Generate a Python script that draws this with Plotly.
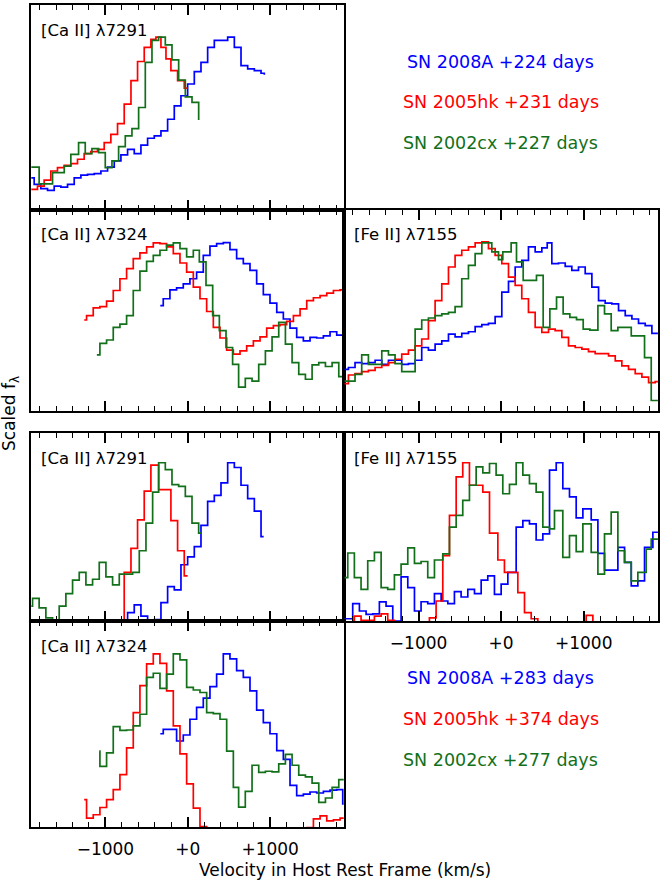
import plotly.graph_objects as go

# ---------------- data (velocity km/s, scaled flux) ----------------
# Panel 1: [Ca II] 7291, early epoch
p1_08A_v = [-1910,-1865,-1784,-1703,-1622,-1541,-1460,-1379,-1298,-1217,-1136,-1055,-974,-893,-812,-731,-650,-569,-488,-407,-326,-245,-164,-83,-2,79,160,241,322,484,565,646,727,808,889,929]
p1_08A_f = [0.162,0.130,0.110,0.101,0.122,0.117,0.130,0.162,0.175,0.179,0.182,0.195,0.214,0.244,0.273,0.300,0.279,0.321,0.354,0.365,0.390,0.446,0.511,0.560,0.617,0.677,0.722,0.795,0.828,0.844,0.795,0.706,0.690,0.682,0.669,0.662]
p1_05hk_v = [-1910,-1825,-1744,-1663,-1582,-1500,-1420,-1339,-1258,-1177,-1096,-1015,-934,-853,-772,-690,-610,-529,-448,-387,-326,-265,-205,-124,-43,-2]
p1_05hk_f = [0.106,0.122,0.151,0.195,0.211,0.222,0.231,0.252,0.279,0.289,0.300,0.333,0.373,0.425,0.519,0.633,0.726,0.795,0.833,0.844,0.795,0.739,0.682,0.633,0.597,0.597]
p1_02cx_v = [-1910,-1805,-1642,-1500,-1420,-1326,-1245,-1164,-1083,-1002,-921,-840,-759,-678,-597,-516,-435,-354,-273,-192,-111,-30,51,132]
p1_02cx_f = [0.214,0.133,0.187,0.219,0.276,0.333,0.279,0.304,0.284,0.211,0.244,0.313,0.365,0.401,0.503,0.722,0.828,0.844,0.807,0.734,0.636,0.555,0.528,0.442]

# Panel 2: [Ca II] 7324, early epoch
p2_08A_v = [-334,-298,-217,-136,-55,26,107,188,269,350,431,512,593,674,755,836,917,998,1080,1160,1241,1322,1403,1484,1565,1646,1727,1808,1893]
p2_08A_f = [0.527,0.561,0.605,0.615,0.635,0.660,0.693,0.776,0.821,0.834,0.839,0.804,0.760,0.735,0.701,0.635,0.582,0.539,0.494,0.461,0.416,0.370,0.353,0.370,0.367,0.378,0.398,0.381,0.373]
p2_05hk_v = [-1258,-1229,-1148,-1067,-986,-905,-824,-743,-662,-581,-500,-419,-338,-257,-176,-95,-14,67,148,229,310,391,472,553,634,715,796,877,958,1039,1120,1201,1282,1363,1444,1525,1606,1687,1768,1849,1893]
p2_05hk_f = [0.456,0.478,0.516,0.522,0.549,0.602,0.660,0.710,0.760,0.788,0.818,0.837,0.834,0.818,0.784,0.738,0.693,0.619,0.561,0.498,0.420,0.367,0.307,0.287,0.303,0.328,0.353,0.373,0.416,0.428,0.433,0.449,0.478,0.511,0.552,0.566,0.577,0.589,0.602,0.605,0.605]
p2_02cx_v = [-1104,-1067,-986,-905,-824,-743,-662,-581,-500,-419,-338,-257,-176,-95,-14,67,140,221,302,383,464,544,617,698,780,861,942,1023,1104,1185,1266,1347,1428,1509,1590,1671,1752,1833,1893]
p2_02cx_f = [0.284,0.340,0.357,0.420,0.436,0.478,0.602,0.698,0.746,0.776,0.801,0.826,0.837,0.809,0.768,0.801,0.743,0.627,0.478,0.403,0.320,0.237,0.124,0.167,0.154,0.237,0.303,0.373,0.444,0.337,0.245,0.187,0.163,0.234,0.245,0.226,0.245,0.176,0.154]

# Panel 3: [Fe II] 7155, early epoch
p3_08A_v = [-1899,-1850,-1770,-1689,-1608,-1527,-1446,-1365,-1204,-1123,-1042,-962,-881,-800,-719,-638,-558,-477,-396,-315,-234,-154,-73,8,89,170,250,331,412,493,558,614,695,776,856,937,1018,1099,1180,1260,1341,1422,1503,1584,1664,1745,1826,1899]
p3_08A_f = [0.212,0.221,0.245,0.240,0.245,0.257,0.237,0.257,0.237,0.240,0.257,0.320,0.307,0.337,0.353,0.386,0.373,0.390,0.398,0.423,0.433,0.439,0.473,0.594,0.647,0.718,0.751,0.818,0.793,0.813,0.837,0.735,0.738,0.721,0.701,0.718,0.685,0.619,0.552,0.539,0.536,0.502,0.478,0.461,0.439,0.428,0.390,0.390]
p3_05hk_v = [-1899,-1850,-1770,-1689,-1608,-1527,-1446,-1365,-1285,-1204,-1123,-1042,-962,-881,-800,-719,-638,-558,-477,-396,-315,-234,-154,-73,8,89,170,250,331,412,493,574,654,735,816,897,978,1058,1139,1220,1301,1382,1462,1543,1624,1705,1786,1866,1899]
p3_05hk_f = [0.141,0.184,0.191,0.201,0.207,0.221,0.232,0.245,0.262,0.287,0.307,0.328,0.362,0.453,0.552,0.635,0.718,0.776,0.801,0.818,0.837,0.842,0.809,0.776,0.735,0.668,0.627,0.561,0.494,0.420,0.395,0.411,0.403,0.370,0.328,0.320,0.312,0.300,0.290,0.290,0.279,0.254,0.229,0.212,0.191,0.174,0.146,0.151,0.151]
p3_02cx_v = [-1899,-1770,-1689,-1608,-1446,-1365,-1285,-1204,-1042,-962,-881,-800,-719,-638,-558,-477,-396,-315,-234,-154,-113,-32,20,121,186,267,347,428,509,590,671,751,832,913,994,1075,1172,1252,1333,1414,1576,1737,1818,1899]
p3_02cx_f = [0.154,0.187,0.284,0.237,0.303,0.284,0.240,0.201,0.411,0.456,0.466,0.478,0.486,0.494,0.522,0.660,0.726,0.784,0.837,0.837,0.793,0.755,0.793,0.837,0.743,0.652,0.652,0.677,0.420,0.511,0.569,0.486,0.469,0.458,0.411,0.406,0.527,0.486,0.403,0.420,0.378,0.270,0.058,0.058]

# Panel 4: [Ca II] 7291, late epoch
p4_08A_v = [-812,-731,-650,-569,-488,-407,-326,-245,-164,-83,-2,79,160,241,322,403,484,565,646,727,808,889,921]
p4_08A_f = [0.009,0.050,0.091,0.032,0.009,0.014,0.103,0.188,0.171,0.304,0.346,0.400,0.512,0.639,0.671,0.737,0.844,0.819,0.725,0.654,0.588,0.453,0.453]
p4_05hk_v = [-853,-772,-690,-610,-529,-448,-354,-205,-124,-43,-2]
p4_05hk_f = [0.009,0.263,0.391,0.542,0.694,0.831,0.702,0.538,0.378,0.245,0.245]
p4_02cx_v = [-1910,-1885,-1805,-1723,-1642,-1561,-1480,-1399,-1318,-1237,-1156,-1075,-994,-913,-832,-751,-670,-589,-508,-427,-354,-273,-192,-111,-30,51,132,160]
p4_02cx_f = [0.085,0.126,0.076,0.023,0.005,0.085,0.151,0.222,0.263,0.197,0.227,0.316,0.240,0.197,0.254,0.254,0.263,0.378,0.524,0.689,0.844,0.808,0.728,0.719,0.666,0.524,0.471,0.471]

# Panel 5: [Fe II] 7155, late epoch
p5_08A_v = [-1899,-1798,-1717,-1636,-1555,-1475,-1394,-1313,-1212,-1131,-1050,-970,-889,-808,-727,-646,-566,-485,-404,-323,-242,-162,-81,0,81,182,263,343,424,505,586,667,747,828,909,990,1091,1172,1252,1414,1495,1576,1656,1737,1838,1899]
p5_08A_f = [0.018,0.098,0.059,0.041,0.044,0.107,0.085,0.005,0.240,0.183,0.059,0.108,0.098,0.151,0.112,0.098,0.162,0.133,0.174,0.151,0.222,0.245,0.147,0.201,0.263,0.503,0.538,0.520,0.435,0.467,0.805,0.844,0.707,0.663,0.552,0.600,0.542,0.364,0.275,0.396,0.316,0.192,0.218,0.396,0.476,0.476]
p5_05hk_v = [-1798,-1778,-1697,-1535,-1454,-1374,-1293,-869,-788,-707,-626,-545,-465,-384,-303,-222,-141,-40,40,121,202,283,364,444,1030,1111]
p5_05hk_f = [0.009,0.032,0.009,0.032,0.044,0.009,0.0,0.023,0.112,0.352,0.565,0.769,0.844,0.725,0.725,0.689,0.471,0.329,0.263,0.263,0.156,0.050,0.018,0.0,0.036,0.0]
p5_02cx_v = [-1899,-1858,-1778,-1697,-1616,-1535,-1454,-1374,-1293,-1212,-1131,-1050,-970,-889,-808,-707,-626,-545,-465,-384,-303,-222,-141,-61,20,101,182,263,343,424,505,586,646,747,828,909,990,1091,1172,1252,1333,1414,1495,1576,1656,1757,1818,1899]
p5_02cx_f = [0.236,0.366,0.236,0.174,0.325,0.369,0.183,0.174,0.250,0.307,0.393,0.311,0.321,0.236,0.329,0.361,0.503,0.565,0.645,0.725,0.822,0.790,0.840,0.778,0.680,0.730,0.844,0.778,0.734,0.689,0.503,0.494,0.591,0.343,0.458,0.373,0.520,0.369,0.254,0.467,0.583,0.378,0.316,0.218,0.263,0.387,0.440,0.440]

# Panel 6: [Ca II] 7324, late epoch
p6_08A_v = [-334,-298,-217,-136,-55,26,107,188,269,350,431,512,593,674,755,836,917,998,1080,1160,1241,1322,1403,1484,1565,1646,1727,1808,1881,1893]
p6_08A_f = [0.456,0.477,0.477,0.421,0.450,0.526,0.583,0.628,0.683,0.744,0.841,0.817,0.761,0.728,0.663,0.570,0.510,0.456,0.375,0.332,0.207,0.157,0.165,0.175,0.170,0.178,0.184,0.186,0.117,0.117]
p6_05hk_v = [-1258,-1229,-1148,-1067,-986,-905,-824,-743,-662,-581,-500,-419,-338,-257,-176,-95,-14,67,148,229,1444,1525,1606,1687,1768,1849,1893]
p6_05hk_f = [0.138,0.049,0.065,0.100,0.138,0.186,0.259,0.388,0.558,0.688,0.793,0.841,0.796,0.663,0.494,0.359,0.214,0.097,0.008,0.0,0.003,0.045,0.060,0.036,0.040,0.049,0.049]
p6_02cx_v = [-1075,-1067,-986,-905,-824,-743,-662,-581,-500,-419,-338,-257,-176,-95,-14,67,148,229,310,391,472,553,617,698,780,861,942,1023,1104,1185,1266,1347,1428,1509,1590,1671,1752,1833,1893]
p6_02cx_f = [0.372,0.299,0.364,0.490,0.472,0.474,0.494,0.550,0.728,0.748,0.675,0.744,0.841,0.812,0.680,0.667,0.655,0.558,0.553,0.526,0.372,0.197,0.102,0.178,0.304,0.270,0.275,0.272,0.311,0.356,0.304,0.256,0.248,0.218,0.125,0.146,0.197,0.235,0.235]

panel_labels = ["[Ca II] λ7291", "[Ca II] λ7324", "[Fe II] λ7155",
                "[Ca II] λ7291", "[Fe II] λ7155", "[Ca II] λ7324"]
legend_early = ["SN 2008A +224 days", "SN 2005hk +231 days", "SN 2002cx +227 days"]
legend_late = ["SN 2008A +283 days", "SN 2005hk +374 days", "SN 2002cx +277 days"]
x_title = "Velocity in Host Rest Frame (km/s)"
y_title = "Scaled f<sub>λ</sub>"

# ---------------- style / layout ----------------
W, H = 664, 886
BLUE, RED, GREEN = "#0000ff", "#ff0000", "#12701a"
FONT = "DejaVu Sans"

# panel boxes in pixels: (left, top, right, bottom)
boxes = [
    (31.3, 5.0, 344.3, 210.0),
    (31.3, 210.0, 344.3, 411.0),
    (344.3, 210.0, 658.0, 411.0),
    (31.3, 433.3, 344.3, 621.0),
    (344.3, 433.3, 658.0, 621.0),
    (31.3, 621.0, 344.3, 827.0),
]
panels = [
    [(p1_08A_v, p1_08A_f, BLUE), (p1_05hk_v, p1_05hk_f, RED), (p1_02cx_v, p1_02cx_f, GREEN)],
    [(p2_08A_v, p2_08A_f, BLUE), (p2_05hk_v, p2_05hk_f, RED), (p2_02cx_v, p2_02cx_f, GREEN)],
    [(p3_08A_v, p3_08A_f, BLUE), (p3_05hk_v, p3_05hk_f, RED), (p3_02cx_v, p3_02cx_f, GREEN)],
    [(p4_08A_v, p4_08A_f, BLUE), (p4_05hk_v, p4_05hk_f, RED), (p4_02cx_v, p4_02cx_f, GREEN)],
    [(p5_08A_v, p5_08A_f, BLUE), (p5_05hk_v, p5_05hk_f, RED), (p5_02cx_v, p5_02cx_f, GREEN)],
    [(p6_08A_v, p6_08A_f, BLUE), (p6_05hk_v, p6_05hk_f, RED), (p6_02cx_v, p6_02cx_f, GREEN)],
]
labelled = {4, 5}

fig = go.Figure()
layout = dict(
    width=W, height=H, margin=dict(l=0, r=0, t=0, b=0, pad=0),
    paper_bgcolor="white", plot_bgcolor="white", showlegend=False,
    font=dict(family=FONT, size=17, color="black"),
)
annotations = []

for i, (box, series) in enumerate(zip(boxes, panels)):
    n = i + 1
    xs = "" if n == 1 else str(n)
    l, t, r, b = box
    for v, f, c in series:
        fig.add_trace(go.Scatter(
            x=v, y=f, mode="lines", line=dict(color=c, width=1.7, shape="hv"),
            xaxis="x" + xs, yaxis="y" + xs, hoverinfo="skip"))
    layout["xaxis" + xs] = dict(
        domain=[l / W, r / W], anchor="y" + xs, range=[-1900, 1900],
        showline=True, linecolor="black", linewidth=1.5, mirror="allticks",
        ticks="inside", ticklen=10, tickwidth=1.5, tickcolor="black",
        tick0=0, dtick=1000, tickformat="+d",
        minor=dict(dtick=200, ticks="inside", ticklen=5, tickwidth=1.2, tickcolor="black"),
        showgrid=False, zeroline=False, showticklabels=(i in labelled),
        tickfont=dict(family=FONT, size=17, color="black"), ticklabelstandoff=6,
    )
    layout["yaxis" + xs] = dict(
        domain=[1 - b / H, 1 - t / H], anchor="x" + xs, range=[0.006, 1],
        showline=True, linecolor="black", linewidth=1.5, mirror=True,
        ticks="", showticklabels=False, showgrid=False, zeroline=False,
    )
    annotations.append(dict(
        text=panel_labels[i], x=(l + 8) / W, y=1 - (t + 25) / H,
        xref="paper", yref="paper", xanchor="left", yanchor="middle",
        showarrow=False, font=dict(family=FONT, size=16.5, color="black")))

for txt, c, py in zip(legend_early, [BLUE, RED, GREEN], [61.7, 101.7, 143.0]):
    annotations.append(dict(text=txt, x=500.7 / W, y=1 - py / H, xref="paper", yref="paper",
                            xanchor="center", yanchor="middle", showarrow=False,
                            font=dict(family=FONT, size=17.5, color=c)))
for txt, c, py in zip(legend_late, [BLUE, RED, GREEN], [678.3, 719.0, 760.0]):
    annotations.append(dict(text=txt, x=500.7 / W, y=1 - py / H, xref="paper", yref="paper",
                            xanchor="center", yanchor="middle", showarrow=False,
                            font=dict(family=FONT, size=17.5, color=c)))

annotations.append(dict(text=x_title, x=344.5 / W, y=1 - 870 / H, xref="paper", yref="paper",
                        xanchor="center", yanchor="middle", showarrow=False,
                        font=dict(family=FONT, size=17, color="black")))
annotations.append(dict(text=y_title, x=11 / W, y=1 - 414 / H, xref="paper", yref="paper",
                        xanchor="center", yanchor="middle", showarrow=False, textangle=-90,
                        font=dict(family=FONT, size=17, color="black")))

layout["annotations"] = annotations
fig.update_layout(**layout)
fig.write_html("out.html", config={"displayModeBar": False},
               post_script="document.body.style.margin='0';document.body.style.padding='0';")
